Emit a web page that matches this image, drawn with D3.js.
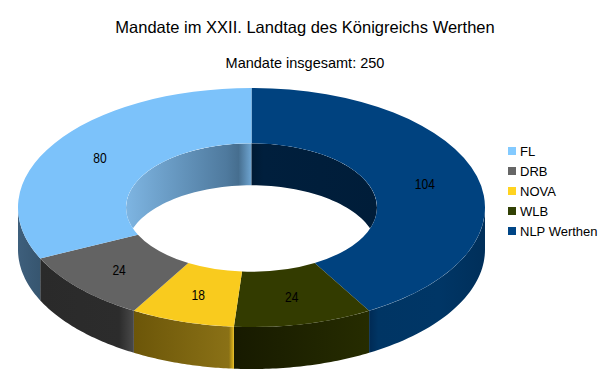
<!DOCTYPE html>
<html>
<head>
<meta charset="utf-8">
<script src="https://cdn.jsdelivr.net/npm/d3@7"></script>
<style>
html, body { margin: 0; padding: 0; background: #fff; }
text { font-family: "Liberation Sans", Arial, sans-serif; fill: #000; }
</style>
</head>
<body>
<div id="chart"></div>
<script>
var parties = ["NLP Werthen", "WLB", "NOVA", "DRB", "FL"];
var seats = [104, 24, 18, 24, 80];
var legendOrder = ["FL", "DRB", "NOVA", "WLB", "NLP Werthen"];
var legendColors = ["#83caff", "#666666", "#ffd320", "#314004", "#004586"];
var topColors = ["#00427f", "#333b00", "#f9cb1e", "#636363", "#7cc2fa"];

var width = 610, height = 382;
var cx = 251.5, cy = 207.5, rx = 233.5, innerRx = 125.5, squash = 0.512, depth = 42;

var svg = d3.select("#chart").append("svg")
    .attr("width", width).attr("height", height).style("display", "block");
var defs = svg.append("defs");

function px(r, a){ return cx + r * Math.sin(a); }
function py(r, a){ return cy - r * squash * Math.cos(a); }

// band between an ellipse arc and the same arc moved down by the depth
function wall(r, a0, a1){
    var pts = d3.range(0, 41).map(function(i){
        var a = a0 + (a1 - a0) * i / 40;
        return [px(r, a), py(r, a)];
    });
    var low = pts.slice().reverse().map(function(p){ return [p[0], p[1] + depth]; });
    return d3.line()(pts.concat(low)) + "Z";
}

function gradient(id, p0, p1, stops){
    var g = defs.append("linearGradient").attr("id", id)
        .attr("gradientUnits", "userSpaceOnUse")
        .attr("x1", p0[0]).attr("y1", p0[1]).attr("x2", p1[0]).attr("y2", p1[1]);
    stops.forEach(function(s){
        g.append("stop").attr("offset", s[0]).attr("stop-color", s[1]);
    });
    return "url(#" + id + ")";
}

var pie = d3.pie().sort(null).startAngle(0).endAngle(2 * Math.PI);
var slices = pie(seats);

var outerFills = [
    gradient("o0", [369, 330], [485, 330], [[0, "#002a54"], [0.08, "#003564"], [0.6, "#003666"], [1, "#002f5a"]]),
    gradient("o1", [234, 345], [369, 345], [[0, "#171a00"], [1, "#262c00"]]),
    gradient("o2", [134, 345], [234, 345], [[0, "#6c5609"], [0.95, "#8a7116"], [1, "#e8bc1a"]]),
    gradient("o3", [41, 320], [134, 320], [[0, "#2a2a2a"], [0.84, "#2c2c2c"], [1, "#4a4a4a"]]),
    gradient("o4", [18, 260], [41, 260], [[0, "#3e5f7c"], [1, "#36556f"]])
];
var innerFills = {
    4: gradient("i4", [126, 165], [251, 165], [[0, "#7eb5e2"], [0.8, "#4f7a9e"], [0.9, "#466e8f"], [1, "#6da3cf"]]),
    0: gradient("i0", [251, 165], [377, 165], [[0, "#001a33"], [0.1, "#001f3d"], [1, "#001d39"]])
};

// outer side, only the front half shows
var outer = svg.append("g");
slices.forEach(function(s, i){
    var a0 = Math.max(s.startAngle, Math.PI / 2);
    var a1 = Math.min(s.endAngle, 3 * Math.PI / 2);
    if (a1 <= a0) return;
    outer.append("path").attr("d", wall(rx, a0, a1)).attr("fill", outerFills[i]);
});

// inner side, only the back half shows, cut off by the hole
defs.append("clipPath").attr("id", "hole").append("ellipse")
    .attr("cx", cx).attr("cy", cy).attr("rx", innerRx).attr("ry", innerRx * squash);
var inner = svg.append("g").attr("clip-path", "url(#hole)");
inner.append("path").attr("d", wall(innerRx, 3 * Math.PI / 2, 2 * Math.PI)).attr("fill", innerFills[4]);
inner.append("path").attr("d", wall(innerRx, 0, Math.PI / 2)).attr("fill", innerFills[0]);

// top faces
var arc = d3.arc().innerRadius(innerRx).outerRadius(rx);
var faces = svg.append("g")
    .attr("transform", "translate(" + cx + "," + cy + ") scale(1," + squash + ")");
faces.selectAll("path").data(slices).enter().append("path")
    .attr("d", arc)
    .attr("fill", function(d, i){ return topColors[i]; });

// value labels, the digits in the original are narrow
var labelR = (rx + innerRx) / 2;
svg.append("g").selectAll("text").data(slices).enter().append("text")
    .attr("x", function(d){ return px(labelR, (d.startAngle + d.endAngle) / 2); })
    .attr("y", function(d){ return py(labelR, (d.startAngle + d.endAngle) / 2) + 5; })
    .attr("text-anchor", "middle")
    .attr("font-size", 14)
    .attr("textLength", function(d){ return String(d.value).length * 6.7; })
    .attr("lengthAdjust", "spacingAndGlyphs")
    .text(function(d){ return d.value; });

// titles
svg.append("text").attr("x", 305).attr("y", 33).attr("text-anchor", "middle")
    .attr("font-size", 16.5).text("Mandate im XXII. Landtag des Königreichs Werthen");
svg.append("text").attr("x", 305).attr("y", 68).attr("text-anchor", "middle")
    .attr("font-size", 14.5).text("Mandate insgesamt: 250");

// legend
var legendY = d3.scalePoint().domain(legendOrder).range([151, 231]);
var legend = svg.append("g").selectAll("g").data(legendOrder).enter().append("g")
    .attr("transform", function(d){ return "translate(508," + legendY(d) + ")"; });
legend.append("rect").attr("x", 0).attr("y", -4).attr("width", 8).attr("height", 8)
    .attr("fill", function(d, i){ return legendColors[i]; });
legend.append("text").attr("x", 12).attr("y", 5).attr("font-size", 13)
    .text(function(d){ return d; });
</script>
</body>
</html>
